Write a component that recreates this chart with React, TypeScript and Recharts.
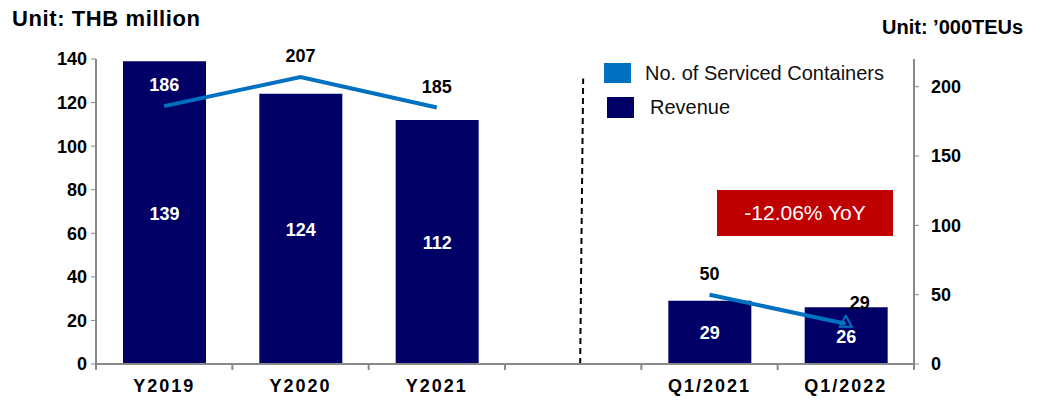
import React from "react";
import {
  ComposedChart,
  Bar,
  Line,
  XAxis,
  YAxis,
  Legend,
  LabelList,
  ReferenceLine,
} from "recharts";

const categories = ["Y2019", "Y2020", "Y2021", " ", "Q1/2021", "Q1/2022"];
const revenue = [139, 124, 112, null, 29, 26];
const containers = [186, 207, 185, null, 50, 29];
const leftTicks = [0, 20, 40, 60, 80, 100, 120, 140];
const rightTicks = [0, 50, 100, 150, 200];

const data = categories.map((name, i) => ({
  name,
  revenue: revenue[i],
  containers: containers[i],
}));

const FONT = "'Liberation Sans', Arial, sans-serif";
const NAVY = "#000066";
const BLUE = "#0070C0";
const AXIS = "#898989";

const XTick = (props: any) => {
  const { x, y, payload, index } = props;
  const half = payload.offset ?? 68;
  return (
    <g>
      <line x1={x - half} y1={y} x2={x - half} y2={y + 6} stroke={AXIS} strokeWidth={2} />
      {index === categories.length - 1 && (
        <line x1={x + half} y1={y} x2={x + half} y2={y + 6} stroke={AXIS} strokeWidth={2} />
      )}
      <text
        x={x}
        y={y + 28}
        textAnchor="middle"
        fontSize={18}
        fontWeight="bold"
        letterSpacing={2}
        fill="#000"
      >
        {payload.value}
      </text>
    </g>
  );
};

const LineLabel = (p: any) => {
  const { x, y, value, index } = p;
  if (value == null) return null;
  const dx = index === 5 ? 14 : 0;
  return (
    <text
      x={x + dx}
      y={y - 15}
      textAnchor="middle"
      fontSize={18}
      fontWeight="bold"
      fill={index === 0 ? "#fff" : "#000"}
    >
      {value}
    </text>
  );
};

const BarLabel = (p: any) => {
  const { x, y, width, height, value } = p;
  if (value == null) return null;
  return (
    <text
      x={x + width / 2}
      y={y + height / 2 + 7}
      textAnchor="middle"
      fontSize={18}
      fontWeight="bold"
      fill="#fff"
    >
      {value}
    </text>
  );
};

const EndDot = (p: any) => {
  const { cx, cy, index } = p;
  if (index !== 5) return <g key={index} />;
  return (
    <polygon
      key={index}
      points={`${cx},${cy - 8} ${cx - 6},${cy + 3} ${cx + 6},${cy + 3}`}
      fill="none"
      stroke={BLUE}
      strokeWidth={2}
    />
  );
};

// divider sits a little right of the gap category's centre, slightly tilted
const Divider = (p: any) => (
  <line
    x1={p.x1 + 7}
    y1={p.y1}
    x2={p.x2 + 10}
    y2={p.y2}
    stroke="#000"
    strokeWidth={2}
    strokeDasharray="6 4"
  />
);

const LegendBox = () => (
  <div style={{ fontFamily: FONT, fontSize: 20, color: "#111" }}>
    <div style={{ display: "flex", alignItems: "center", height: 22 }}>
      <span style={{ width: 27, height: 20, background: BLUE, display: "inline-block" }} />
      <span style={{ marginLeft: 14 }}>No. of Serviced Containers</span>
    </div>
    <div style={{ display: "flex", alignItems: "center", height: 22, marginTop: 12 }}>
      <span style={{ width: 27, height: 21, background: NAVY, display: "inline-block", marginLeft: 3 }} />
      <span style={{ marginLeft: 16 }}>Revenue</span>
    </div>
  </div>
);

export default function App() {
  return (
    <div style={{ position: "absolute", left: 0, top: 0, width: 1047, height: 401, background: "#fff", fontFamily: FONT }}>
      <div style={{ position: "absolute", left: 12, top: 8, fontSize: 22, fontWeight: "bold", lineHeight: "22px", letterSpacing: 0.6 }}>
        Unit: THB million
      </div>
      <div style={{ position: "absolute", left: 882, top: 17, fontSize: 20, fontWeight: "bold", lineHeight: "20px" }}>
        Unit: ’000TEUs
      </div>
      <ComposedChart
        width={1047}
        height={401}
        data={data}
        margin={{ top: 59, right: 0, bottom: 0, left: 0 }}
        style={{ fontFamily: FONT }}
      >
        <XAxis
          dataKey="name"
          height={37}
          axisLine={{ stroke: AXIS, strokeWidth: 2 }}
          tickLine={false}
          tickSize={0}
          tickMargin={0}
          tick={<XTick />}
          interval={0}
        />
        <YAxis
          yAxisId="left"
          width={96}
          domain={[0, 140]}
          ticks={leftTicks}
          interval={0}
          axisLine={{ stroke: AXIS, strokeWidth: 2 }}
          tickLine={{ stroke: AXIS }}
          tickSize={5}
          tickMargin={4}
          tick={{ fill: "#000", fontSize: 18, fontWeight: "bold" }}
        />
        <YAxis
          yAxisId="right"
          orientation="right"
          width={133}
          domain={[0, 220]}
          ticks={rightTicks}
          interval={0}
          axisLine={{ stroke: AXIS, strokeWidth: 2 }}
          tickLine={{ stroke: AXIS }}
          tickSize={5}
          tickMargin={12}
          tick={{ fill: "#000", fontSize: 18, fontWeight: "bold" }}
        />
        <Legend
          layout="vertical"
          align="center"
          verticalAlign="middle"
          content={<LegendBox />}
          wrapperStyle={{ left: 604, top: 62, width: 300 }}
        />
        <ReferenceLine
          yAxisId="left"
          segment={[
            { x: " ", y: 0 },
            { x: " ", y: 131 },
          ]}
          shape={Divider}
          ifOverflow="visible"
        />
        <Bar yAxisId="left" dataKey="revenue" name="Revenue" fill={NAVY} barSize={83} isAnimationActive={false}>
          <LabelList dataKey="revenue" content={<BarLabel />} />
        </Bar>
        <Line
          yAxisId="right"
          dataKey="containers"
          name="No. of Serviced Containers"
          stroke={BLUE}
          strokeWidth={4}
          dot={EndDot}
          activeDot={false}
          isAnimationActive={false}
        >
          <LabelList dataKey="containers" content={<LineLabel />} />
        </Line>
      </ComposedChart>
      <div
        style={{
          position: "absolute",
          left: 717,
          top: 190,
          width: 176,
          height: 46,
          background: "#C00000",
          color: "#fff",
          fontSize: 21,
          display: "flex",
          alignItems: "center",
          justifyContent: "center",
        }}
      >
        -12.06% YoY
      </div>
    </div>
  );
}
